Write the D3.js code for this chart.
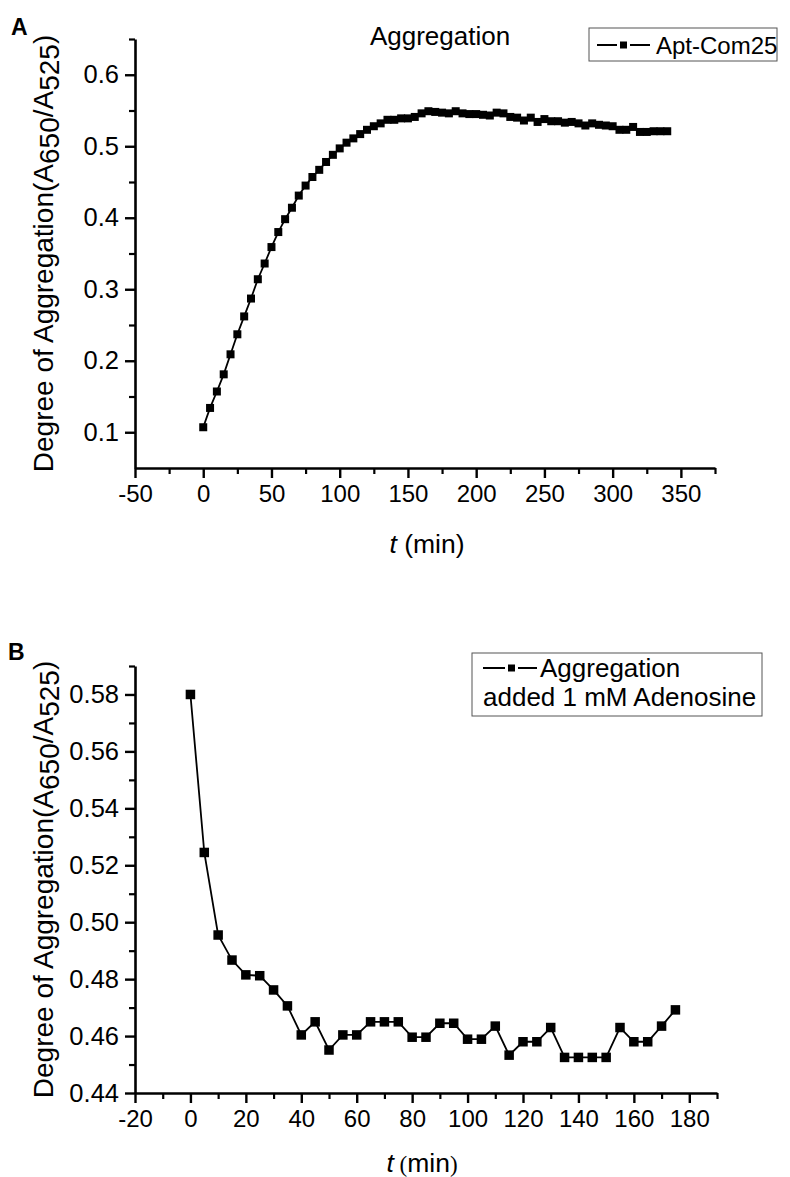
<!DOCTYPE html>
<html><head><meta charset="utf-8">
<script src="https://cdn.jsdelivr.net/npm/d3@7"></script>
<style>body{margin:0;background:#fff}svg{display:block}text{font-family:"Liberation Sans",Arial,sans-serif;fill:#000}</style>
</head><body>
<script>
// Panel A data
const timeA = [0,5,10,15,20,25,30,35,40,45,50,55,60,65,70,75,80,85,90,95,100,105,110,115,120,125,130,135,140,145,150,155,160,165,170,175,180,185,190,195,200,205,210,215,220,225,230,235,240,245,250,255,260,265,270,275,280,285,290,295,300,305,310,315,320,325,330,335,340];
const valuesA = [0.107,0.134,0.157,0.181,0.209,0.237,0.262,0.287,0.314,0.336,0.359,0.380,0.398,0.414,0.431,0.445,0.457,0.467,0.478,0.488,0.497,0.505,0.511,0.517,0.523,0.528,0.532,0.537,0.537,0.539,0.539,0.541,0.546,0.549,0.548,0.547,0.546,0.549,0.546,0.545,0.545,0.544,0.543,0.547,0.546,0.541,0.540,0.536,0.540,0.534,0.538,0.535,0.535,0.533,0.534,0.532,0.529,0.532,0.530,0.529,0.528,0.523,0.523,0.527,0.520,0.520,0.521,0.521,0.521];
const xTicksA = [-50,0,50,100,150,200,250,300,350];
const yTicksA = [0.1,0.2,0.3,0.4,0.5,0.6];
// Panel B data
const timeB = [0,5,10,15,20,25,30,35,40,45,50,55,60,65,70,75,80,85,90,95,100,105,110,115,120,125,130,135,140,145,150,155,160,165,170,175];
const valuesB = [0.580,0.5245,0.4955,0.4867,0.4815,0.4812,0.4762,0.4706,0.4604,0.4650,0.4551,0.4604,0.4604,0.4650,0.4650,0.4650,0.4596,0.4596,0.4645,0.4645,0.4589,0.4589,0.4635,0.4533,0.4580,0.4580,0.4630,0.4525,0.4525,0.4525,0.4525,0.4630,0.4580,0.4580,0.4635,0.4692];
const xTicksB = [-20,0,20,40,60,80,100,120,140,160,180];
const yTicksB = [0.44,0.46,0.48,0.50,0.52,0.54,0.56,0.58];

const svg = d3.select("body").append("svg").attr("width",790).attr("height",1177);
const intFmt = d => String(d);

function panel(cfg){
  const g = svg.append("g");
  const x = d3.scaleLinear().domain(cfg.xDomain).range([cfg.left, cfg.right]);
  const y = d3.scaleLinear().domain(cfg.yDomain).range([cfg.bottom, cfg.top]);
  // minor ticks
  g.append("g").attr("transform",`translate(0,${cfg.bottom})`)
    .call(d3.axisBottom(x).tickValues(cfg.xMinor).tickSize(6).tickFormat(""))
    .call(s=>s.select(".domain").remove()).selectAll("line").attr("stroke-width",2.2);
  g.append("g").attr("transform",`translate(${cfg.left},0)`)
    .call(d3.axisLeft(y).tickValues(cfg.yMinor).tickSize(6).tickFormat(""))
    .call(s=>s.select(".domain").remove()).selectAll("line").attr("stroke-width",2.2);
  // major axes
  const xa = g.append("g").attr("transform",`translate(0,${cfg.bottom})`)
    .call(d3.axisBottom(x).tickValues(cfg.xTicks).tickSize(10).tickSizeOuter(0).tickPadding(7).tickFormat(intFmt));
  xa.select(".domain").attr("stroke-width",2.6);
  xa.selectAll("line").attr("stroke-width",2.4);
  xa.selectAll("text").attr("font-size",24).attr("font-family","Liberation Sans, Arial, sans-serif");
  const ya = g.append("g").attr("transform",`translate(${cfg.left},0)`)
    .call(d3.axisLeft(y).tickValues(cfg.yTicks).tickSize(10).tickSizeOuter(0).tickPadding(6).tickFormat(cfg.yFmt));
  ya.select(".domain").attr("stroke-width",2.6);
  ya.selectAll("line").attr("stroke-width",2.4);
  ya.selectAll("text").attr("font-size",25.5).attr("font-family","Liberation Sans, Arial, sans-serif");
  // data
  const pts = cfg.t.map((t,i)=>[t,cfg.v[i]]);
  g.append("path").datum(pts).attr("fill","none").attr("stroke","#000").attr("stroke-width",cfg.lw)
    .attr("d", d3.line().x(d=>x(d[0])).y(d=>y(d[1])));
  g.selectAll("rect.m").data(pts).join("rect").attr("class","m")
    .attr("x",d=>x(d[0])-cfg.ms/2).attr("y",d=>y(d[1])-cfg.ms/2)
    .attr("width",cfg.ms).attr("height",cfg.ms).attr("fill","#000");
  // y label
  const yl = g.append("text").attr("transform",`translate(${cfg.ylx},${(cfg.top+cfg.bottom)/2}) rotate(-90)`)
    .attr("text-anchor","middle").attr("font-size",28);
  yl.append("tspan").text("Degree of Aggregation(A");
  yl.append("tspan").attr("dy",6).text("650");
  yl.append("tspan").attr("dy",-6).text("/A");
  yl.append("tspan").attr("dy",6).text("525");
  yl.append("tspan").attr("dy",-6).text(")");
  // x label
  const xl = g.append("text").attr("x",cfg.xlx).attr("y",cfg.xly).attr("text-anchor","middle").attr("font-size",26.5);
  xl.append("tspan").attr("font-style","italic").text("t");
  if(cfg.serifParen){
    xl.append("tspan").attr("font-family","Liberation Serif, Times New Roman, serif").attr("font-size",23).text("  (");
    xl.append("tspan").text("min");
    xl.append("tspan").attr("font-family","Liberation Serif, Times New Roman, serif").attr("font-size",23).text(")");
  } else {
    xl.append("tspan").text("  (min)");
  }
  return {g,x,y};
}

const A = panel({xDomain:[-50,375], yDomain:[0.05,0.65], left:135, right:715, top:39, bottom:468,
  xTicks:xTicksA, yTicks:yTicksA, xMinor:d3.range(-25,376,50), yMinor:[0.15,0.25,0.35,0.45,0.55,0.65],
  yFmt:d3.format(".1f"), t:timeA, v:valuesA, ms:8, lw:1.8, ylx:53, xlx:427, xly:553, serifParen:false});
const B = panel({xDomain:[-20,190], yDomain:[0.44,0.59], left:135, right:717, top:666, bottom:1093,
  xTicks:xTicksB, yTicks:yTicksB, xMinor:d3.range(-10,191,20), yMinor:[0.45,0.47,0.49,0.51,0.53,0.55,0.57,0.59],
  yFmt:d3.format(".2f"), t:timeB, v:valuesB, ms:9.5, lw:1.8, ylx:53, xlx:422, xly:1172, serifParen:true});

// panel letters
svg.append("text").attr("x",11).attr("y",35).attr("font-size",23).attr("font-weight","bold").text("A");
svg.append("text").attr("x",8).attr("y",660).attr("font-size",23).attr("font-weight","bold").text("B");

// Title A
svg.append("text").attr("x",440).attr("y",45).attr("text-anchor","middle").attr("font-size",26).text("Aggregation");

// Legend A
svg.append("rect").attr("x",589).attr("y",28).attr("width",188).attr("height",33).attr("fill","#fff").attr("stroke","#555").attr("stroke-width",1);
svg.append("line").attr("x1",597).attr("x2",617).attr("y1",45).attr("y2",45).attr("stroke","#000").attr("stroke-width",2);
svg.append("line").attr("x1",630).attr("x2",650).attr("y1",45).attr("y2",45).attr("stroke","#000").attr("stroke-width",2);
svg.append("rect").attr("x",620).attr("y",41.5).attr("width",7).attr("height",7).attr("fill","#000");
svg.append("text").attr("x",656).attr("y",54).attr("font-size",24).text("Apt-Com25");

// Legend B
svg.append("rect").attr("x",472).attr("y",653).attr("width",290).attr("height",63).attr("fill","#fff").attr("stroke","#555").attr("stroke-width",1);
svg.append("line").attr("x1",483).attr("x2",505).attr("y1",668).attr("y2",668).attr("stroke","#000").attr("stroke-width",2);
svg.append("line").attr("x1",518).attr("x2",537).attr("y1",668).attr("y2",668).attr("stroke","#000").attr("stroke-width",2);
svg.append("rect").attr("x",508).attr("y",664.5).attr("width",7).attr("height",7).attr("fill","#000");
svg.append("text").attr("x",540).attr("y",677).attr("font-size",26).text("Aggregation");
svg.append("text").attr("x",483).attr("y",706).attr("font-size",26).text("added 1 mM Adenosine");
</script>
</body></html>
